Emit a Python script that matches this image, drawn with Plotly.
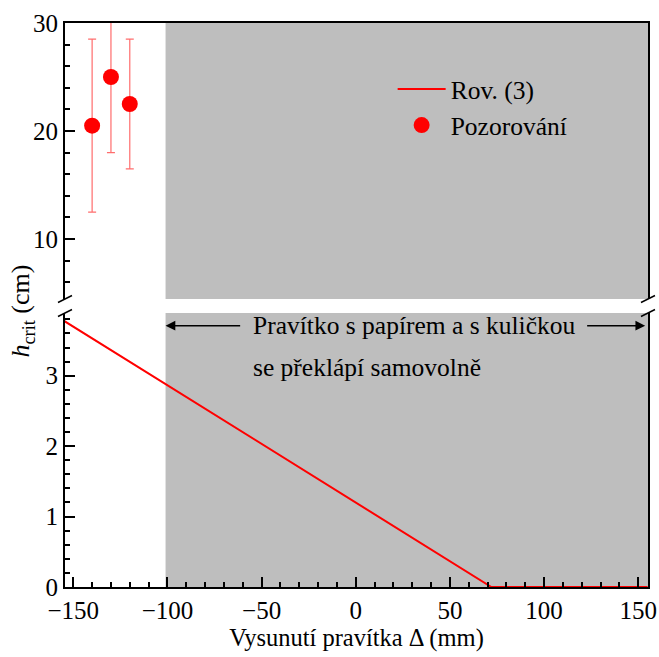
import plotly.graph_objects as go

# Data
model_x = [-155, 72, 155]
model_h = [3.78, 0.0, 0.0]

obs_x = [-140, -130, -120]
obs_h = [20.5, 25.0, 22.5]
obs_err_plus = [8.0, 7.0, 6.0]
obs_err_minus = [8.0, 7.0, 6.0]

x_ticks = [-150, -100, -50, 0, 50, 100, 150]
x_ticklabels = ["\u2212150", "\u2212100", "\u221250", "0", "50", "100", "150"]
shade_start = -101
x_range = [-154.4, 155.2]
top_range = [4.45, 30]
bottom_range = [0, 3.89]

FONT = "Liberation Serif"
GRAY = "#bebebe"

fig = go.Figure()

fig.add_trace(go.Scatter(
    x=model_x, y=model_h, mode="lines", name="Rov. (3)",
    line=dict(color="#ff0000", width=2), xaxis="x", yaxis="y", cliponaxis=True,
))
fig.add_trace(go.Scatter(
    x=obs_x, y=obs_h, mode="markers", name="Pozorování",
    marker=dict(color="#ff0000", size=16),
    error_y=dict(type="data", array=obs_err_plus, arrayminus=obs_err_minus,
                 color="rgba(255,60,60,0.75)", thickness=1.2, width=4),
    xaxis="x2", yaxis="y2",
))

gap_lo = 0.4858
gap_hi = 0.5106

axis_common = dict(
    showline=True, linecolor="black", linewidth=2, automargin=False,
    ticks="inside", tickcolor="black", tickwidth=1.5,
    showgrid=False, zeroline=False,
    tickfont=dict(family=FONT, size=25, color="black"),
)

fig.update_layout(
    width=659, height=657, autosize=False,
    margin=dict(l=65, r=11, t=23, b=70),
    paper_bgcolor="white", plot_bgcolor="white",
    font=dict(family=FONT, size=25, color="black"),
    showlegend=True,
    legend=dict(x=0.562, y=0.924, xanchor="left", yanchor="top",
                bgcolor="rgba(0,0,0,0)", font=dict(family=FONT, size=25.5),
                itemwidth=48),
    xaxis=dict(domain=[0, 1], range=x_range, anchor="y", mirror=False,
               tickvals=x_ticks, ticktext=x_ticklabels, ticklen=10,
               minor=dict(dtick=10, ticklen=5, ticks="inside", tickcolor="black", tickwidth=1.5),
               title=dict(text="Vysunutí pravítka Δ (mm)", font=dict(family=FONT, size=24.5), standoff=4),
               **axis_common),
    xaxis2=dict(domain=[0, 1], range=x_range, anchor="y2", matches="x", side="top",
                mirror=False, showticklabels=False, ticks="", showline=True, automargin=False,
                linecolor="black", linewidth=2, showgrid=False, zeroline=False),
    yaxis=dict(domain=[0, gap_lo], range=bottom_range, anchor="x", mirror=True,
               tickvals=[0, 1, 2, 3], ticklen=10,
               minor=dict(dtick=0.2, ticklen=5, ticks="inside", tickcolor="black", tickwidth=1.5),
               **axis_common),
    yaxis2=dict(domain=[gap_hi, 1], range=top_range, anchor="x2", mirror=True,
                tickvals=[10, 20, 30], ticklen=10,
                minor=dict(dtick=2, ticklen=5, ticks="inside", tickcolor="black", tickwidth=1.5),
                **axis_common),
)

# shaded regions
fig.add_shape(type="rect", xref="x", yref="y domain", x0=shade_start, x1=x_range[1],
              y0=0, y1=1, fillcolor=GRAY, line=dict(width=0), layer="below")
fig.add_shape(type="rect", xref="x2", yref="y2 domain", x0=shade_start, x1=x_range[1],
              y0=0, y1=1, fillcolor=GRAY, line=dict(width=0), layer="below")

# break marks
pw = 583.0
ph = 564.0
for xp in [0.0, 1.0]:
    for yp in [gap_lo, gap_hi]:
        ddx, ddy = 7 / pw, 3.5 / ph
        fig.add_shape(type="line", xref="paper", yref="paper",
                      x0=xp - ddx, y0=yp - ddy, x1=xp + ddx, y1=yp + ddy,
                      line=dict(color="black", width=1.5))

# arrows
arrow_y = 3.71
fig.add_annotation(x=shade_start, y=arrow_y, ax=-59, ay=arrow_y, xref="x", yref="y",
                   axref="x", ayref="y", showarrow=True, arrowhead=2, arrowsize=1.3,
                   arrowwidth=1.5, arrowcolor="black", text=" ")
fig.add_annotation(x=x_range[1] - 1.5, y=arrow_y, ax=120.5, ay=arrow_y, xref="x", yref="y",
                   axref="x", ayref="y", showarrow=True, arrowhead=2, arrowsize=1.3,
                   arrowwidth=1.5, arrowcolor="black", text=" ")
fig.add_annotation(x=-55.5, y=arrow_y, xref="x", yref="y", xanchor="left", yanchor="middle",
                   text="Pravítko s papírem a s kuličkou", showarrow=False,
                   font=dict(family=FONT, size=25.5, color="black"))
fig.add_annotation(x=-55.5, y=3.11, xref="x", yref="y", xanchor="left", yanchor="middle",
                   text="se překlápí samovolně", showarrow=False,
                   font=dict(family=FONT, size=25.5, color="black"))

# y-axis title
fig.add_annotation(x=-0.074, y=0.49, xref="paper", yref="paper", textangle=-90,
                   text="<i>h</i><sub>crit</sub> (cm)", showarrow=False,
                   xanchor="center", yanchor="middle",
                   font=dict(family=FONT, size=26, color="black"))

fig.write_html("out.html",
               config={"displayModeBar": False, "responsive": False},
               post_script="document.body.style.margin='0';document.body.style.padding='0';"
                           "document.body.style.overflow='hidden';"
                           "document.documentElement.style.overflow='hidden';")
